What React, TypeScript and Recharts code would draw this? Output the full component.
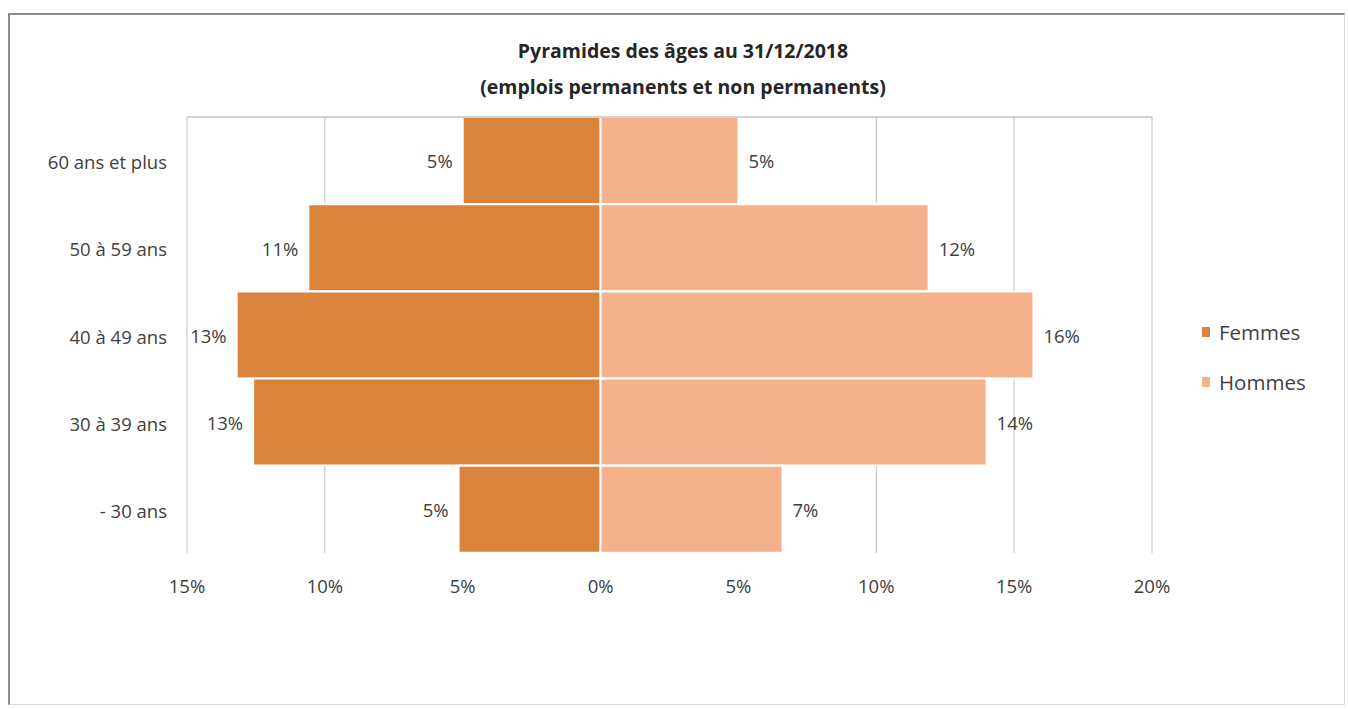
import { BarChart, Bar, XAxis, YAxis, CartesianGrid, LabelList } from 'recharts';

const ageGroups = ['60 ans et plus', '50 à 59 ans', '40 à 49 ans', '30 à 39 ans', '- 30 ans'];
const femmes = [5.0, 10.6, 13.2, 12.6, 5.15];
const hommes = [5.0, 11.9, 15.7, 14.0, 6.6];
const xTicks = [-15, -10, -5, 0, 5, 10, 15, 20];

const FEMMES_COLOR = '#d9833c';
const HOMMES_COLOR = '#f5b18c';
const TEXT = '#404040';
const FONT = '"Open Sans", Lato, sans-serif';

const rows = ageGroups.map((age, i) => ({
    age,
    Femmes: -femmes[i],
    Hommes: hommes[i],
}));

const pct = (v: number) => `${Math.round(Math.abs(v))}%`;

// labels sit just outside the bar end
const FemmesLabel = ({ x, y, width, height, value }: any) => {
    const edge = x + Math.min(0, width);
    return (
        <text x={edge - 10} y={y + height / 2 + 3} textAnchor="end" dominantBaseline="middle"
            fill={TEXT} fontSize={18.5} fontFamily={FONT}>{pct(value)}</text>
    );
};

const HommesLabel = ({ x, y, width, height, value }: any) => (
    <text x={x + width + 10} y={y + height / 2 + 3} textAnchor="start" dominantBaseline="middle"
        fill={TEXT} fontSize={18.5} fontFamily={FONT}>{pct(value)}</text>
);

const legendItems = [['Femmes', FEMMES_COLOR], ['Hommes', HOMMES_COLOR]];

export default function App() {
    return (
        <div style={{ position: 'absolute', left: 0, top: 0, width: 1348, height: 709, background: '#fff' }}>
            <div style={{
                position: 'absolute', left: 8, top: 13, width: 1334, height: 689,
                borderTop: '2px solid #8c8c8c', borderLeft: '2px solid #8c8c8c',
                borderRight: '1px solid #dadada', borderBottom: '1px solid #dadada',
            }} />
            <div style={{
                position: 'absolute', left: 0, top: 33, width: 1366, textAlign: 'center',
                fontFamily: FONT, fontWeight: 700, fontSize: 19.5, lineHeight: '36px', color: '#262626',
            }}>
                Pyramides des âges au 31/12/2018<br />(emplois permanents et non permanents)
            </div>
            <BarChart
                width={1348}
                height={709}
                data={rows}
                layout="vertical"
                stackOffset="sign"
                barCategoryGap={0}
                margin={{ top: 108, right: 196, bottom: 126, left: 7 }}
                style={{ position: 'absolute', left: 0, top: 0 }}
            >
                <CartesianGrid horizontal={false} vertical stroke="#bfbfbf" />
                <XAxis
                    type="number"
                    xAxisId="top"
                    orientation="top"
                    domain={[-15, 20]}
                    ticks={xTicks}
                    tick={false}
                    tickSize={9}
                    height={9}
                    stroke="#a6a6a6"
                />
                <XAxis
                    type="number"
                    domain={[-15, 20]}
                    ticks={xTicks}
                    tickFormatter={pct}
                    axisLine={false}
                    tickLine={false}
                    tickMargin={21}
                    tick={{ fill: TEXT, fontSize: 18.5, fontFamily: FONT }}
                />
                <YAxis
                    type="category"
                    dataKey="age"
                    width={180}
                    axisLine={false}
                    tickLine={false}
                    tickMargin={14}
                    tick={{ fill: TEXT, fontSize: 18.5, fontFamily: FONT, dy: 2 }}
                />
                <Bar dataKey="Femmes" stackId="p" fill={FEMMES_COLOR} stroke="#fff" strokeWidth={2} isAnimationActive={false}>
                    <LabelList dataKey="Femmes" content={<FemmesLabel />} />
                </Bar>
                <Bar dataKey="Hommes" stackId="p" fill={HOMMES_COLOR} stroke="#fff" strokeWidth={2} isAnimationActive={false}>
                    <LabelList dataKey="Hommes" content={<HommesLabel />} />
                </Bar>
            </BarChart>
            <div style={{ position: 'absolute', left: 1202, top: 318, fontFamily: FONT, fontSize: 20.5, color: TEXT }}>
                {legendItems.map(([name, color]) => (
                    <div key={name} style={{ display: 'flex', alignItems: 'center', height: 28, marginBottom: 22 }}>
                        <span style={{ display: 'inline-block', width: 8, height: 10, background: color, marginRight: 9 }} />
                        {name}
                    </div>
                ))}
            </div>
        </div>
    );
}
